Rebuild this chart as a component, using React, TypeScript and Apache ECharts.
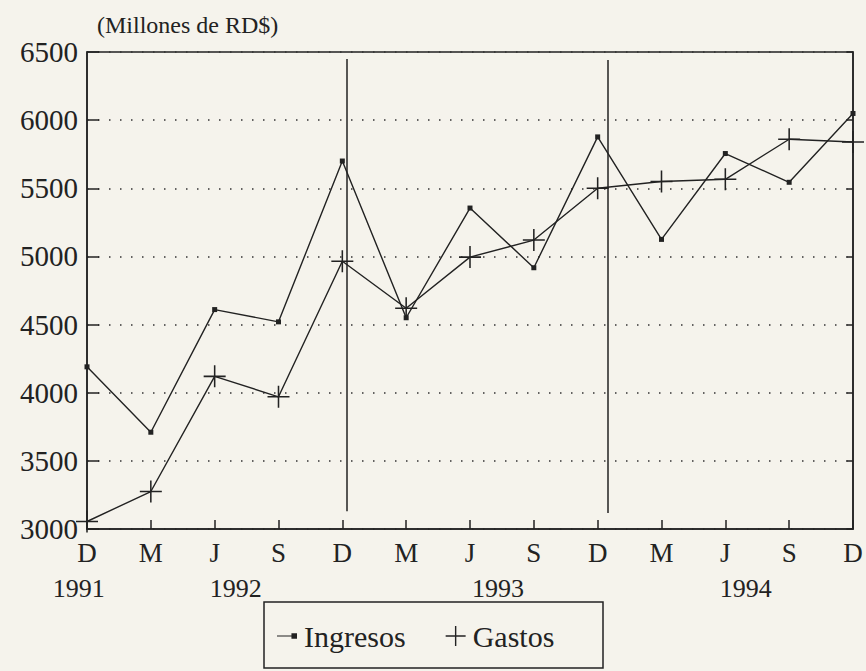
import React, { useEffect, useRef } from "react";
import * as echarts from "echarts";

// Categories (quarter months) along the x axis
const months = ["D", "M", "J", "S", "D", "M", "J", "S", "D", "M", "J", "S", "D"];
// Series values (millones de RD$)
const ingresos = [4190, 3710, 4610, 4520, 5700, 4550, 5355, 4917, 5877, 5125, 5755, 5544, 6049];
const gastos = [3055, 3275, 4120, 3970, 4965, 4620, 4995, 5120, 5500, 5550, 5566, 5860, 5840];
// Year labels and their positions on the month axis
const years = ["1991", "1992", "1993", "1994"];
const yearPos = [-0.13, 2.33, 6.44, 10.32];
// Vertical separators (axis position, bottom value, top value)
const dividerPos = [4.07, 8.16];
const dividerLow = [3130, 3118];
const dividerHigh = [6449, 6441];

const FONT = "Liberation Serif";
const INK = "#222";

const plusPath =
  "path://M0,9.3 L20,9.3 L20,10.7 L0,10.7 Z M9.3,0 L10.7,0 L10.7,20 L9.3,20 Z";
const ingresosIcon = "path://M0,2 L13,2 L13,3 L0,3 Z M13,0 L18,0 L18,5 L13,5 Z";

export default function App() {
  const ref = useRef<HTMLDivElement>(null);

  useEffect(() => {
    if (!ref.current) return;
    const chart = echarts.init(ref.current, null, { renderer: "svg" });
    chart.setOption({
      animation: false,
      backgroundColor: "#f5f3ec",
      textStyle: { fontFamily: FONT },
      title: {
        text: "(Millones de RD$)",
        left: 92,
        top: 8,
        textStyle: { fontFamily: FONT, fontSize: 24, fontWeight: "normal", color: INK },
      },
      grid: {
        left: 87,
        right: 13,
        top: 52,
        bottom: 142,
        show: true,
        borderColor: INK,
        borderWidth: 1.5,
        backgroundColor: "transparent",
      },
      legend: {
        left: 272,
        top: 616,
        itemGap: 40,
        itemWidth: 20,
        itemHeight: 20,
        symbolKeepAspect: true,
        textStyle: { fontFamily: FONT, fontSize: 30, color: INK, padding: [0, 0, 0, 2] },
        data: [
          { name: "Ingresos", icon: ingresosIcon },
          { name: "Gastos", icon: plusPath },
        ],
      },
      xAxis: {
        type: "value",
        min: 0,
        max: 12,
        interval: 1,
        axisLine: { show: true, lineStyle: { color: INK, width: 1.5 } },
        axisTick: { show: true, inside: true, length: 9, lineStyle: { color: INK, width: 1.5 } },
        axisLabel: {
          formatter: (v: number) => months[v] ?? "",
          fontFamily: FONT,
          fontSize: 27,
          color: INK,
          margin: 10,
          showMinLabel: true,
          showMaxLabel: true,
        },
        splitLine: { show: false },
      },
      yAxis: [
        {
          type: "value",
          min: 3000,
          max: 6500,
          interval: 500,
          axisLine: { show: true, lineStyle: { color: INK, width: 1.5 } },
          axisTick: { show: true, inside: true, length: 12, lineStyle: { color: INK, width: 1.5 } },
          axisLabel: {
            formatter: (v: number) => String(v),
            fontFamily: FONT,
            fontSize: 29,
            color: INK,
            margin: 9,
          },
          splitLine: { show: true, lineStyle: { type: [1.5, 9.5], color: "#333", width: 1.5 } },
        },
        {
          type: "value",
          position: "right",
          min: 3000,
          max: 6500,
          interval: 500,
          axisLine: { show: true, lineStyle: { color: INK, width: 1.5 } },
          axisTick: { show: true, inside: true, length: 6, lineStyle: { color: INK, width: 1.5 } },
          axisLabel: { show: false },
          splitLine: { show: false },
        },
      ],
      series: [
        {
          name: "Ingresos",
          type: "line",
          data: ingresos.map((v, i) => [i, v]),
          symbol: "rect",
          symbolSize: 5,
          showSymbol: true,
          lineStyle: { color: INK, width: 1.4 },
          itemStyle: { color: INK },
          markLine: {
            silent: true,
            symbol: ["none", "none"],
            label: { show: false },
            lineStyle: { type: "solid", color: INK, width: 1.5 },
            data: dividerPos.map((p, i) => [
              { coord: [p, dividerLow[i]] },
              { coord: [p, dividerHigh[i]] },
            ]),
          },
        },
        {
          name: "Gastos",
          type: "line",
          data: gastos.map((v, i) => [i, v]),
          symbol: plusPath,
          symbolSize: 22,
          showSymbol: true,
          lineStyle: { color: INK, width: 1.4 },
          itemStyle: { color: INK },
        },
      ],
    });

    const graphic: any[] = years.map((y, i) => {
      const x = chart.convertToPixel({ xAxisIndex: 0 }, yearPos[i]) as number;
      return {
        type: "text",
        x,
        y: 588,
        style: {
          text: y,
          fontFamily: FONT,
          fontSize: 26,
          fill: INK,
          align: "center",
          verticalAlign: "middle",
        },
      };
    });
    graphic.push({
      type: "rect",
      shape: { x: 264, y: 602, width: 339, height: 66 },
      style: { fill: "none", stroke: INK, lineWidth: 1.5 },
    });
    chart.setOption({ graphic });

    return () => chart.dispose();
  }, []);

  return (
    <div
      ref={ref}
      style={{ position: "fixed", left: 0, top: 0, width: 866, height: 671 }}
    />
  );
}
